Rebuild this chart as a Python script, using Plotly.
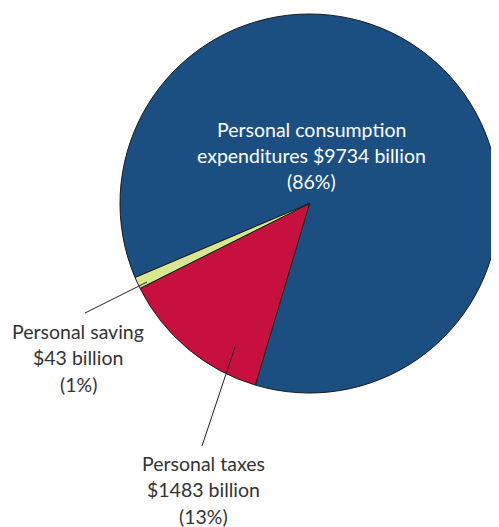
import plotly.graph_objects as go

OFF = 8  # the page body margin shifts the figure by 8px
W, H = 499 - OFF, 527 - OFF

# Slices (percent of personal income)
categories = ["Personal consumption expenditures", "Personal taxes", "Personal saving"]
billions = [9734, 1483, 43]
percents = [86, 13, 1]
colors = ["#1B4F82", "#C8103F", "#D6E78E"]

FONT = "Lato, 'Open Sans', sans-serif"
TEXT_DARK = "#333333"


def px_x(x):
    return (x - OFF) / W


def px_y(y):
    return 1 - (y - OFF) / H


fig = go.Figure(go.Pie(
    labels=categories,
    values=percents,
    sort=False,
    direction="clockwise",
    rotation=247,
    marker=dict(colors=colors, line=dict(color="#1a1a1a", width=1)),
    textinfo="none",
    hoverinfo="label+value",
    domain=dict(x=[px_x(120), 1], y=[px_y(393), px_y(14)]),
    showlegend=False,
))

labels = [
    (["Personal consumption", f"expenditures ${billions[0]} billion", f"({percents[0]}%)"],
     311, 129, "white"),
    (["Personal saving", f"${billions[2]} billion", f"({percents[2]}%)"], 78, 331, TEXT_DARK),
    (["Personal taxes", f"${billions[1]} billion", f"({percents[1]}%)"], 203, 463, TEXT_DARK),
]
LINE_H = 26.5
for lines, x, y, col in labels:
    for i, line in enumerate(lines):
        fig.add_annotation(
            text=line, x=px_x(x), y=px_y(y + i * LINE_H), xref="paper", yref="paper",
            showarrow=False, xanchor="center", yanchor="middle",
            font=dict(family=FONT, size=19.5, color=col),
        )

# leader lines
for x0, y0, x1, y1 in [(85, 313, 147, 282), (202, 446, 235, 347)]:
    fig.add_shape(type="line", xref="paper", yref="paper",
                  x0=px_x(x0), y0=px_y(y0), x1=px_x(x1), y1=px_y(y1),
                  line=dict(color="#222222", width=1))

fig.update_layout(
    width=W, height=H,
    margin=dict(l=0, r=0, t=0, b=0),
    paper_bgcolor="white",
    plot_bgcolor="white",
    font=dict(family=FONT, color=TEXT_DARK),
)

fig.write_html("out.html")
